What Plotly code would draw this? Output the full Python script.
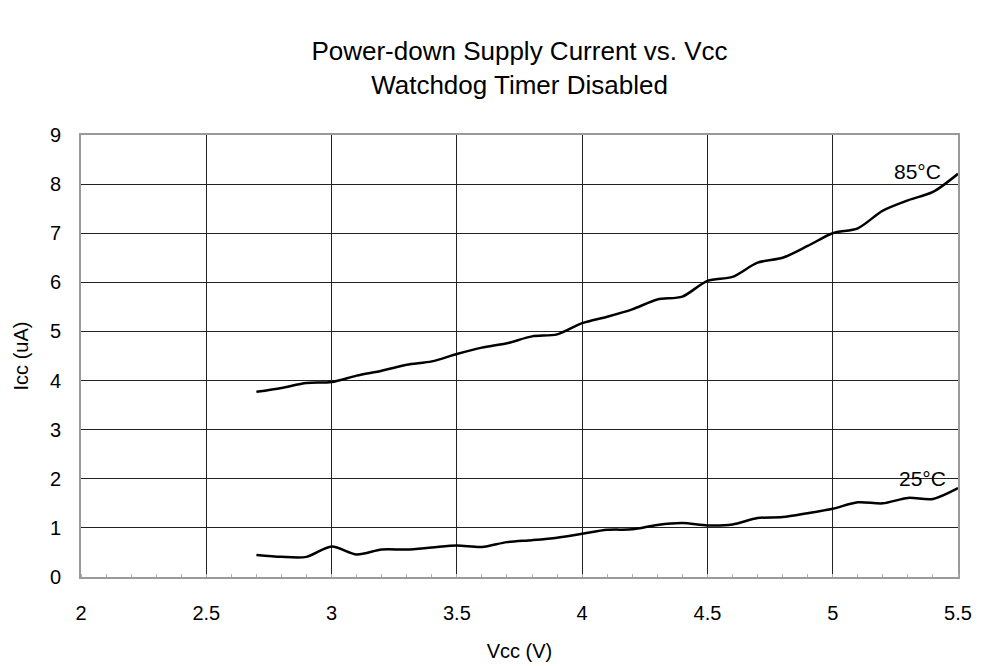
import plotly.graph_objects as go

# Supply voltage sweep (V)
vcc = [2.7, 2.8, 2.9, 3.0, 3.1, 3.2, 3.3, 3.4, 3.5, 3.6, 3.7, 3.8, 3.9, 4.0,
       4.1, 4.2, 4.3, 4.4, 4.5, 4.6, 4.7, 4.8, 4.9, 5.0, 5.1, 5.2, 5.3, 5.4, 5.5]

# Power-down current (uA) at 85 C
icc_85 = [3.77, 3.85, 3.95, 3.97, 4.10, 4.20, 4.32, 4.39, 4.54, 4.67, 4.76, 4.90,
          4.94, 5.17, 5.30, 5.45, 5.65, 5.71, 6.03, 6.11, 6.40, 6.50, 6.74, 7.00,
          7.10, 7.46, 7.67, 7.84, 8.21]

# Power-down current (uA) at 25 C
icc_25 = [0.45, 0.41, 0.41, 0.62, 0.46, 0.56, 0.56, 0.60, 0.64, 0.61, 0.71, 0.75,
          0.80, 0.88, 0.96, 0.97, 1.06, 1.10, 1.05, 1.07, 1.20, 1.22, 1.30, 1.39,
          1.52, 1.50, 1.61, 1.59, 1.81]

series_labels = ["85°C", "25°C"]
x_ticks = [2, 2.5, 3, 3.5, 4, 4.5, 5, 5.5]
x_tick_text = ["2", "2.5", "3", "3.5", "4", "4.5", "5", "5.5"]
y_ticks = list(range(0, 10))

FONT = "Liberation Sans, Arial, Helvetica, sans-serif"

fig = go.Figure()
for ys, name in zip([icc_85, icc_25], series_labels):
    fig.add_trace(go.Scatter(
        x=vcc, y=ys, mode="lines", name=name,
        line=dict(color="black", width=2.5, shape="spline", smoothing=0.8),
        showlegend=False,
    ))

# Curve labels at the right end of each line
label_pos = [(5.44, 8.26), (5.46, 2.01)]
for (lx, ly), name in zip(label_pos, series_labels):
    fig.add_annotation(x=lx, y=ly, text=name, showarrow=False,
                       xanchor="right", yanchor="middle",
                       font=dict(family=FONT, size=21, color="black"))

fig.update_layout(
    width=988, height=666,
    margin=dict(l=81, r=30, t=135, b=89),
    paper_bgcolor="white", plot_bgcolor="white",
    font=dict(family=FONT, color="black"),
    title=dict(
        text="Power-down Supply Current vs. Vcc<br>Watchdog Timer Disabled",
        x=0.5, xref="paper", xanchor="center",
        y=1 - 60 / 666, yref="container", yanchor="middle",
        font=dict(family=FONT, size=26, color="black"),
    ),
)

fig.update_xaxes(
    range=[2, 5.5], tickvals=x_ticks, ticktext=x_tick_text,
    showgrid=True, gridcolor="#222222", gridwidth=1,
    showline=True, linecolor="#9a9a9a", linewidth=2, mirror=True,
    ticks="", tickfont=dict(family=FONT, size=20, color="black"),
    ticklabelstandoff=17, automargin=False,
    minor=dict(ticks="inside", dtick=0.1, ticklen=3, tickcolor="#b0b0b0", showgrid=False),
    title=dict(text="Vcc (V)", font=dict(family=FONT, size=20, color="black"), standoff=21),
    zeroline=False,
)
fig.update_yaxes(
    range=[0, 9], tickvals=y_ticks,
    showgrid=True, gridcolor="#222222", gridwidth=1,
    showline=True, linecolor="#9a9a9a", linewidth=2, mirror=True,
    ticks="", tickfont=dict(family=FONT, size=20, color="black"),
    ticklabelstandoff=14, automargin=False,
    title=dict(text="Icc (uA)", font=dict(family=FONT, size=20, color="black"), standoff=16),
    zeroline=False,
)

fig.write_html("out.html")
